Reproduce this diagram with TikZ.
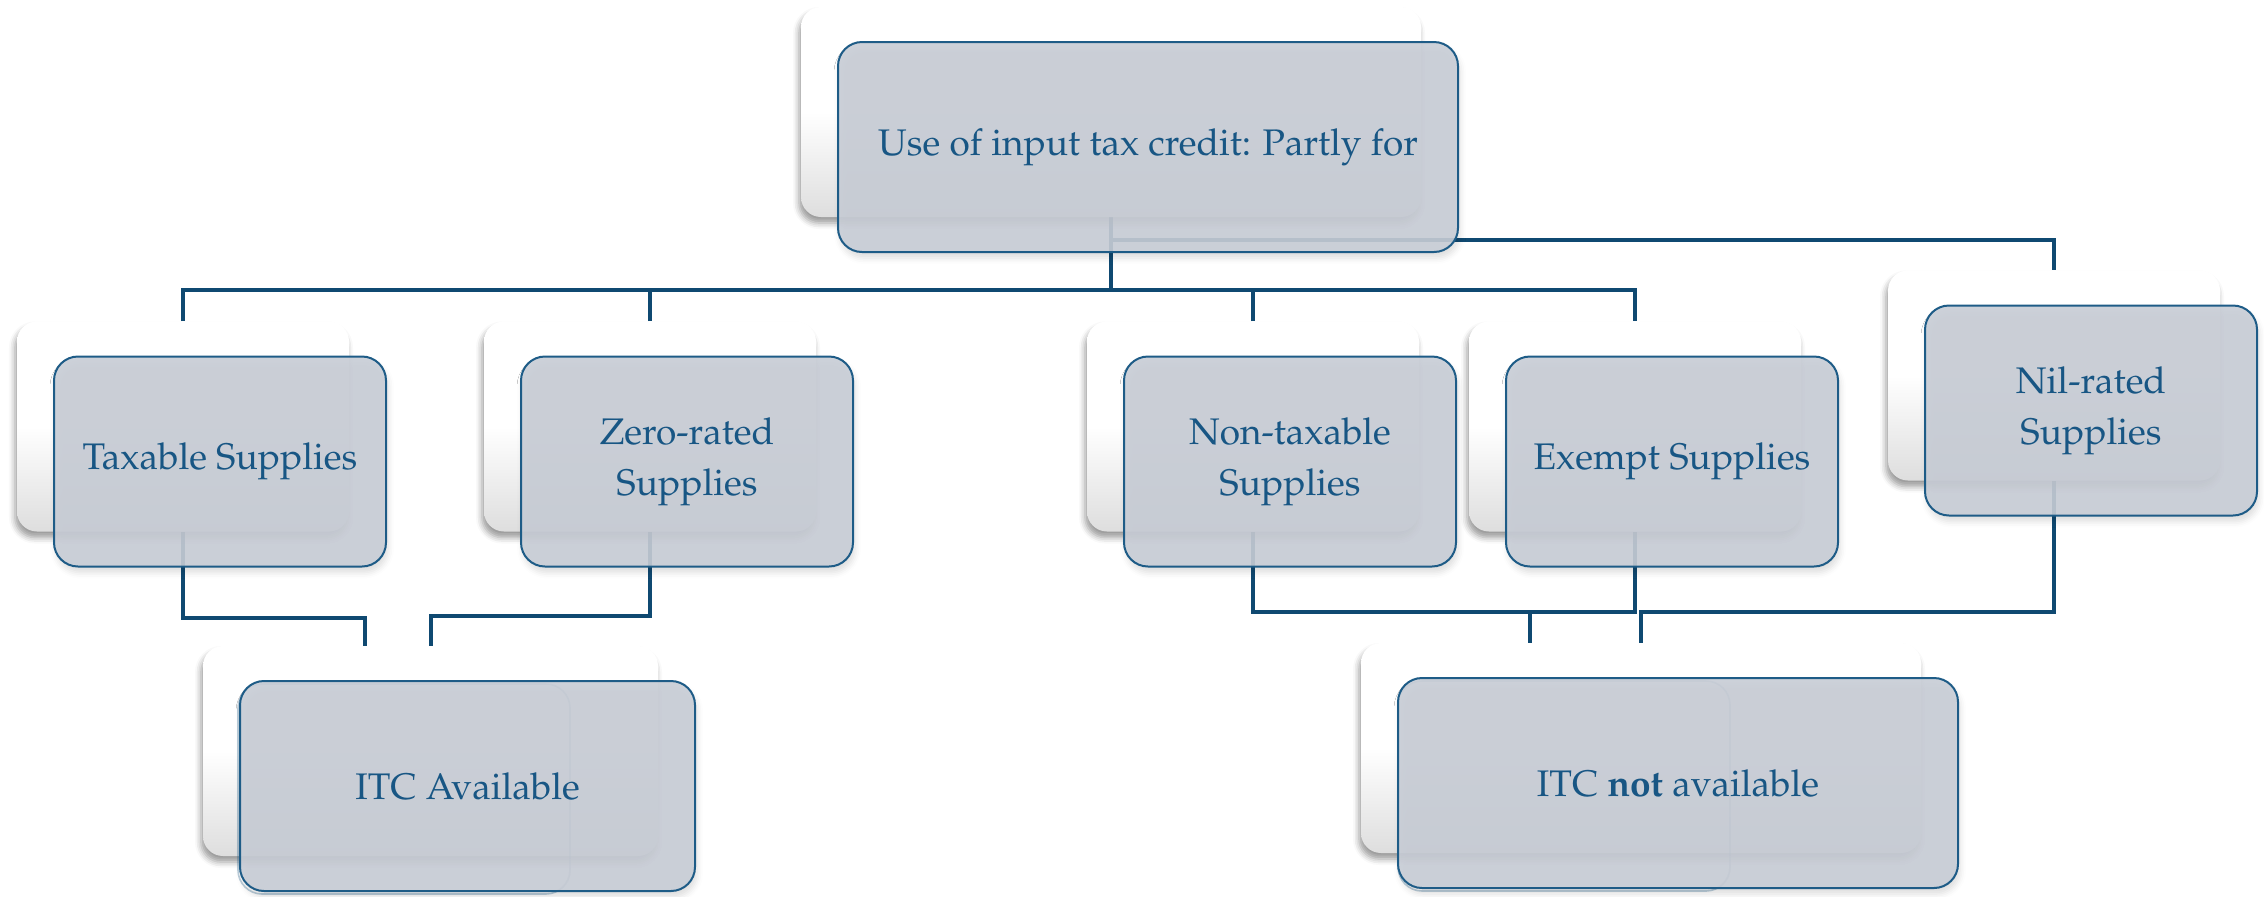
\documentclass[tikz,border=0pt]{standalone}
\usepackage[T1]{fontenc}
\usepackage{mathpazo}
\usetikzlibrary{shadows.blur,calc}
\definecolor{connc}{RGB}{15,73,113}
\definecolor{bordc}{RGB}{30,92,135}
\definecolor{textc}{RGB}{24,86,132}
\definecolor{frontfill}{RGB}{200,205,214}
\pgfdeclarelayer{connlayer}
\pgfsetlayers{connlayer,main}
\tikzset{
 backbox/.style={rounded corners=10pt, minimum width=166pt, minimum height=105pt, inner sep=0pt,
   top color=white, bottom color=black!13, middle color=white,
   blur shadow={shadow xshift=-1pt, shadow yshift=-3pt, shadow blur radius=3pt, shadow opacity=40}},
 frontbox/.style={rounded corners=12pt, minimum width=166pt, minimum height=105pt, inner sep=0pt,
   draw=bordc, line width=1pt, fill=frontfill, fill opacity=0.9, text opacity=1, text=textc,
   font=\fontsize{18.5}{25.5}\selectfont, align=center,
   blur shadow={shadow xshift=1pt, shadow yshift=-3pt, shadow blur radius=3pt, shadow opacity=15}},
 ghostbox/.style={rounded corners=12pt, minimum width=166pt, minimum height=105pt, inner sep=0pt,
   draw=bordc, draw opacity=0.3, line width=0.8pt},
 conn/.style={draw=connc, line width=2pt},
}
\begin{document}
\begin{tikzpicture}[x=0.5pt,y=-0.5pt]
\useasboundingbox (0,0) rectangle (2264,896);
% top
\node[backbox, minimum width=310pt] (topb) at (1111,112) {};
\node[frontbox, minimum width=310pt] (top) at (1148,147) {Use of input tax credit: Partly for};
% row
\node[backbox] (taxb) at (183,426.5) {};
\node[frontbox] (tax) at (220,461.5) {Taxable Supplies};
\node[backbox] (zerob) at (650,426.5) {};
\node[frontbox] (zero) at (687,461.5) {Zero-rated\\Supplies};
\node[backbox] (nontaxb) at (1253,426.5) {};
\node[frontbox] (nontax) at (1290,461.5) {Non-taxable\\Supplies};
\node[backbox] (exb) at (1635,426.5) {};
\node[frontbox] (ex) at (1672,461.5) {Exempt Supplies};
\node[backbox] (nilb) at (2054,375.5) {};
\node[frontbox] (nil) at (2091,410.5) {Nil-rated\\Supplies};
% bottom
\node[backbox, minimum width=227.5pt] (availb) at (430.5,751) {};
\node[ghostbox] (availg) at (404,789) {};
\node[frontbox, minimum width=227.5pt] (avail) at (467.5,786) {ITC Available};
\node[backbox, minimum width=280pt] (notb) at (1641,748) {};
\node[ghostbox] (notg) at (1564,786) {};
\node[frontbox, minimum width=280pt] (not) at (1678,783) {ITC \textbf{not} available};
% connectors
\begin{pgfonlayer}{connlayer}
\coordinate (busy) at (0,290);
\coordinate (nily) at (0,240);
\coordinate (ya) at (0,618);
\coordinate (yb) at (0,616);
\coordinate (yc) at (0,612);
\coordinate (availL) at ([xshift=-33pt]availb.north);
\coordinate (notL) at ([xshift=-55.5pt]notb.north);
\draw[conn] (topb.south) -- (topb.south |- busy);
\draw[conn] (taxb.north) |- (exb.north |- busy) -- (exb.north);
\draw[conn] (zerob.north) -- (zerob.north |- busy);
\draw[conn] (nontaxb.north) -- (nontaxb.north |- busy);
\draw[conn] (topb.south |- nily) -| (nilb.north);
\draw[conn] (taxb.south) |- (availL |- ya) -- (availL);
\draw[conn] (zerob.south) |- (availb.north |- yb) -- (availb.north);
\draw[conn] (nontaxb.south) |- (exb.south |- yc) -- (exb.south);
\draw[conn] (notL |- yc) -- (notL);
\draw[conn] (nilb.south) |- (notb.north |- yc) -- (notb.north);
\end{pgfonlayer}
\end{tikzpicture}
\end{document}
